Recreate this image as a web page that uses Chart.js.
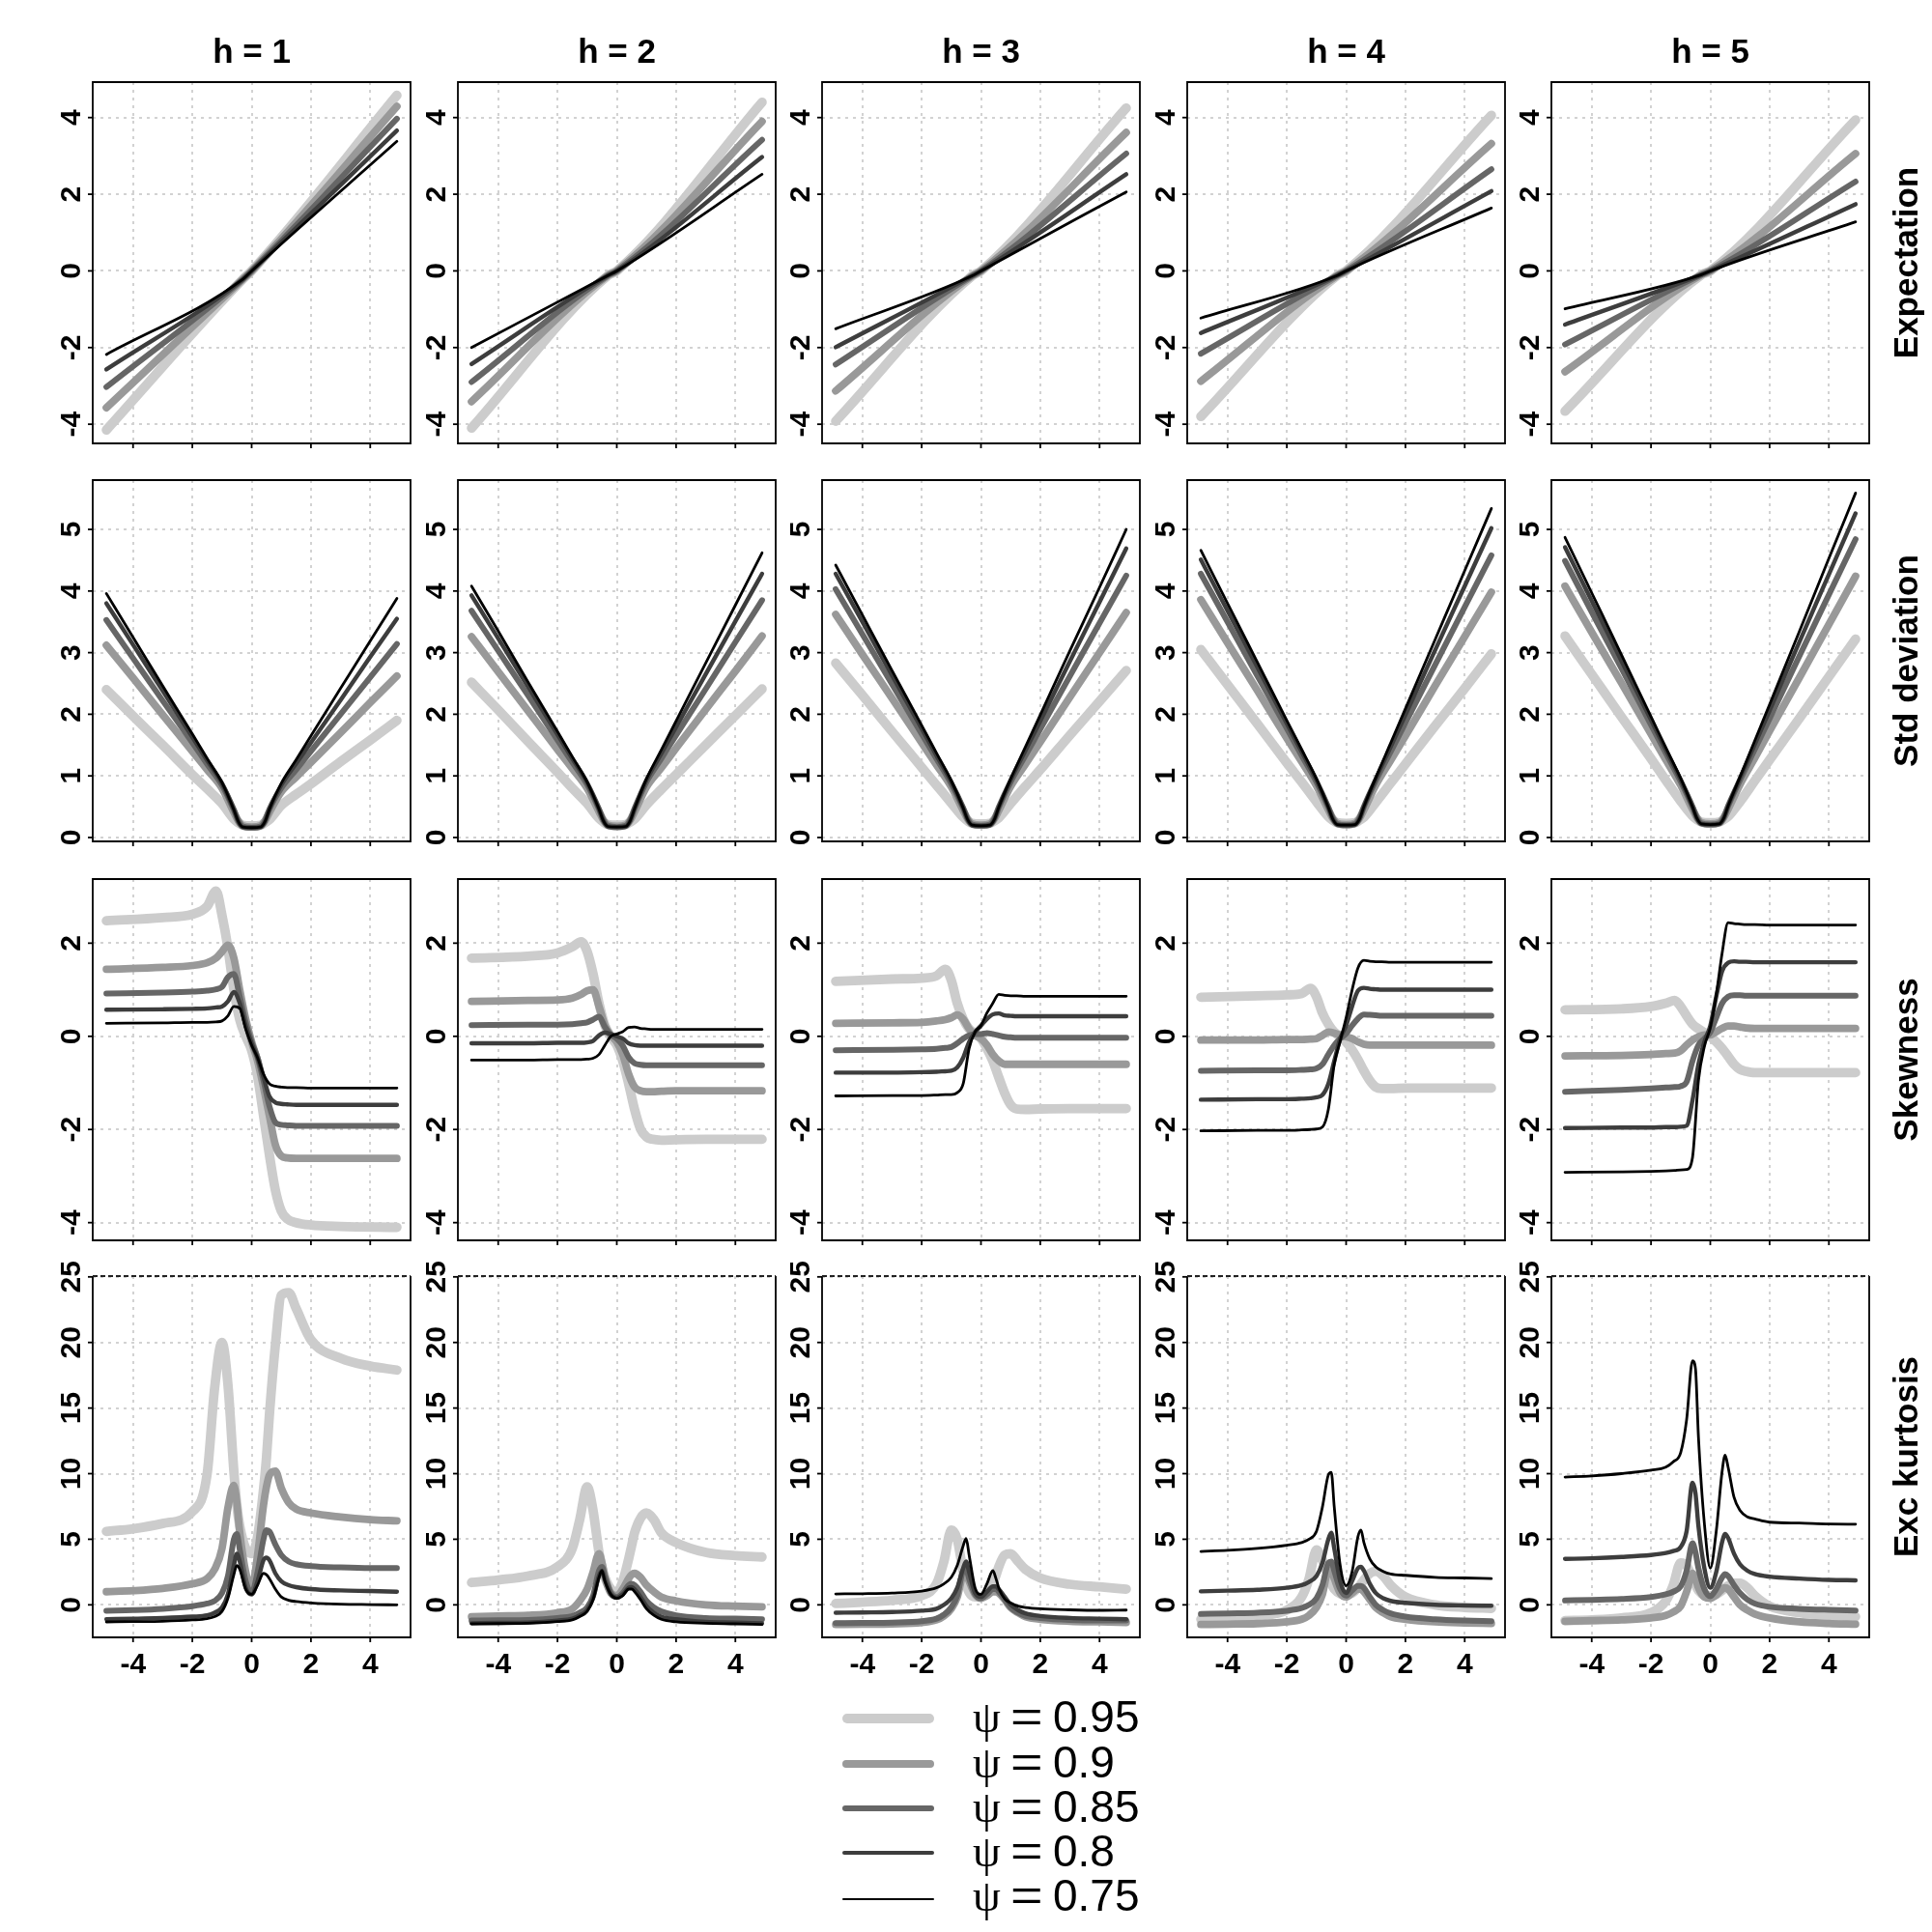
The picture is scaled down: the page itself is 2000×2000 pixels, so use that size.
<!DOCTYPE html>
<html>
<head>
<meta charset="utf-8">
<title>Conditional moments by horizon</title>
<script src="https://cdn.jsdelivr.net/npm/chart.js@4.4.1/dist/chart.umd.min.js"></script>
<style>
html,body{margin:0;padding:0;background:#ffffff;}
#page{position:relative;width:2000px;height:2000px;overflow:hidden;background:#fff;font-family:"Liberation Sans",Arial,Helvetica,sans-serif;color:#000;}
canvas.panel{position:absolute;}
.coltitle{position:absolute;text-align:center;font-weight:bold;font-size:35px;line-height:40px;white-space:nowrap;}
.rowlabel{position:absolute;font-weight:bold;font-size:35px;line-height:35px;white-space:nowrap;transform:translate(-50%,-50%) rotate(-90deg);}
.legline{position:absolute;left:872px;width:95px;}
.legtext{position:absolute;left:1007px;font-size:46px;line-height:46px;white-space:nowrap;}
.legtext .psi{display:inline-block;width:39px;font-family:"Liberation Serif","DejaVu Serif",serif;}
.legtext .eq{display:inline-block;width:44px;}
.legtext .eq span{display:inline-block;transform:scaleX(1.25);transform-origin:left center;}
</style>
</head>
<body>
<div id="page"></div>
<script>
// ---------------- data ----------------
const PSI = ['0.95', '0.9', '0.85', '0.8', '0.75'];
const H_TITLES = ['h = 1', 'h = 2', 'h = 3', 'h = 4', 'h = 5'];
const ROW_LABELS = ['Expectation', 'Std deviation', 'Skewness', 'Exc kurtosis'];
const X_TICKS = [-4, -2, 0, 2, 4];
const Y_TICKS_EXP = [-4, -2, 0, 2, 4];
const Y_TICKS_STD = [0, 1, 2, 3, 4, 5];
const Y_TICKS_SKEW = [-4, -2, 0, 2];
const Y_TICKS_KURT = [0, 5, 10, 15, 20, 25];

// Expectation
const X_EXP = [-4.9, -0.3, 0, 4.9];
const EXP_H1 = [[-4.15,-0.22,0,4.58],[-3.57,-0.22,0,4.29],[-3.03,-0.22,0,3.97],[-2.57,-0.22,0,3.66],[-2.18,-0.22,0,3.38]];
const EXP_H2 = [[-4.1,-0.12,0,4.4],[-3.41,-0.12,0,3.9],[-2.9,-0.12,0,3.42],[-2.43,-0.12,0,2.97],[-2.0,-0.12,0,2.52]];
const EXP_H3 = [[-3.92,-0.13,0,4.25],[-3.13,-0.13,0,3.61],[-2.44,-0.13,0,3.06],[-1.99,-0.13,0,2.52],[-1.51,-0.13,0,2.06]];
const EXP_H4 = [[-3.8,-0.12,0,4.06],[-2.88,-0.12,0,3.32],[-2.16,-0.12,0,2.65],[-1.62,-0.12,0,2.08],[-1.23,-0.12,0,1.64]];
const EXP_H5 = [[-3.66,-0.1,0,3.94],[-2.63,-0.1,0,3.06],[-1.92,-0.1,0,2.33],[-1.4,-0.1,0,1.74],[-0.99,-0.1,0,1.28]];

// Std deviation
const X_STD = [-4.9,-4,-3,-2,-1.5,-1,-0.6,-0.45,-0.3,0,0.3,0.45,0.6,1,1.5,2,3,4,4.9];
const STD_H1 = [
 [2.4,1.97,1.5,1.02,0.79,0.55,0.3,0.24,0.2,0.19,0.2,0.24,0.29,0.52,0.7,0.87,1.23,1.58,1.9],
 [3.12,2.59,1.99,1.4,1.1,0.8,0.41,0.27,0.19,0.17,0.19,0.27,0.41,0.74,0.98,1.22,1.7,2.19,2.62],
 [3.53,2.91,2.22,1.54,1.19,0.85,0.45,0.27,0.18,0.16,0.18,0.27,0.46,0.8,1.1,1.4,2.0,2.6,3.14],
 [3.8,3.13,2.38,1.63,1.25,0.88,0.45,0.26,0.17,0.16,0.17,0.26,0.46,0.85,1.2,1.54,2.23,2.93,3.55],
 [3.96,3.25,2.46,1.68,1.28,0.89,0.45,0.26,0.17,0.16,0.17,0.26,0.46,0.88,1.26,1.65,2.42,3.19,3.88]];
const STD_H2 = [
 [2.52,2.07,1.56,1.06,0.8,0.55,0.31,0.25,0.21,0.2,0.21,0.25,0.3,0.53,0.78,1.02,1.5,1.98,2.41],
 [3.26,2.69,2.06,1.43,1.12,0.8,0.42,0.28,0.2,0.18,0.2,0.28,0.42,0.82,1.13,1.45,2.08,2.7,3.27],
 [3.68,3.03,2.31,1.58,1.22,0.86,0.46,0.28,0.19,0.17,0.19,0.28,0.47,0.9,1.28,1.66,2.41,3.17,3.85],
 [3.93,3.23,2.45,1.67,1.28,0.89,0.46,0.27,0.18,0.17,0.18,0.27,0.47,0.93,1.36,1.79,2.65,3.51,4.28],
 [4.08,3.35,2.53,1.72,1.31,0.9,0.46,0.27,0.18,0.17,0.18,0.27,0.47,0.95,1.42,1.89,2.83,3.77,4.62]];
const STD_H3 = [
 [2.83,2.31,1.72,1.14,0.85,0.56,0.33,0.27,0.23,0.22,0.23,0.27,0.32,0.55,0.83,1.1,1.66,2.21,2.71],
 [3.62,2.97,2.26,1.54,1.18,0.82,0.44,0.3,0.22,0.2,0.22,0.3,0.44,0.83,1.19,1.55,2.28,3.0,3.65],
 [4.03,3.3,2.49,1.68,1.28,0.87,0.48,0.3,0.21,0.19,0.21,0.3,0.49,0.9,1.33,1.76,2.62,3.48,4.25],
 [4.28,3.5,2.63,1.77,1.33,0.9,0.48,0.29,0.2,0.19,0.2,0.29,0.49,0.93,1.41,1.89,2.86,3.82,4.69],
 [4.42,3.61,2.71,1.82,1.37,0.92,0.48,0.29,0.2,0.19,0.2,0.29,0.49,0.95,1.47,1.99,3.03,4.06,5.0]];
const STD_H4 = [
 [3.05,2.48,1.85,1.21,0.9,0.58,0.34,0.28,0.24,0.23,0.24,0.28,0.33,0.57,0.88,1.19,1.81,2.42,2.98],
 [3.86,3.16,2.39,1.61,1.23,0.84,0.45,0.31,0.23,0.21,0.23,0.31,0.45,0.85,1.25,1.65,2.46,3.26,3.98],
 [4.28,3.5,2.63,1.77,1.33,0.9,0.49,0.31,0.22,0.2,0.22,0.31,0.5,0.92,1.39,1.86,2.8,3.74,4.58],
 [4.51,3.68,2.77,1.85,1.39,0.93,0.49,0.3,0.21,0.2,0.21,0.3,0.5,0.95,1.47,1.99,3.04,4.08,5.02],
 [4.66,3.8,2.85,1.9,1.43,0.95,0.49,0.3,0.21,0.2,0.21,0.3,0.5,0.97,1.53,2.09,3.21,4.33,5.34]];
const STD_H5 = [
 [3.27,2.65,1.96,1.28,0.93,0.59,0.35,0.29,0.25,0.24,0.25,0.29,0.34,0.58,0.92,1.26,1.93,2.61,3.22],
 [4.08,3.33,2.51,1.68,1.26,0.85,0.46,0.32,0.24,0.22,0.24,0.32,0.46,0.86,1.29,1.73,2.59,3.46,4.24],
 [4.49,3.66,2.75,1.83,1.37,0.91,0.5,0.32,0.23,0.21,0.23,0.32,0.51,0.93,1.43,1.93,2.94,3.94,4.84],
 [4.71,3.84,2.87,1.91,1.42,0.94,0.5,0.31,0.22,0.21,0.22,0.31,0.51,0.96,1.51,2.06,3.17,4.27,5.26],
 [4.87,3.97,2.97,1.96,1.46,0.96,0.5,0.31,0.22,0.21,0.22,0.31,0.51,0.98,1.57,2.16,3.34,4.53,5.59]];

// Skewness
const X_SKEW = [-4.9,-3,-2,-1.5,-1.2,-1,-0.8,-0.6,-0.4,-0.2,0,0.2,0.4,0.6,0.8,1,1.2,1.5,2,3,4.9];
const SKEW_H1 = [
 [2.48,2.55,2.62,2.79,3.12,2.6,1.9,1.0,0.35,0.0,-0.3,-0.85,-1.7,-2.55,-3.3,-3.75,-3.92,-4.0,-4.05,-4.08,-4.1],
 [1.44,1.48,1.52,1.58,1.68,1.82,1.96,1.68,0.99,0.37,-0.12,-0.53,-1.09,-1.71,-2.33,-2.57,-2.61,-2.62,-2.62,-2.62,-2.62],
 [0.92,0.94,0.96,0.98,1.01,1.06,1.27,1.34,0.85,0.3,-0.12,-0.46,-0.95,-1.5,-1.85,-1.9,-1.91,-1.92,-1.92,-1.92,-1.92],
 [0.57,0.58,0.59,0.6,0.62,0.64,0.75,0.95,0.71,0.23,-0.15,-0.46,-0.88,-1.29,-1.42,-1.45,-1.46,-1.47,-1.47,-1.47,-1.47],
 [0.28,0.29,0.3,0.3,0.31,0.33,0.44,0.64,0.6,0.16,-0.19,-0.46,-0.81,-1.02,-1.07,-1.09,-1.1,-1.1,-1.11,-1.11,-1.11]];
const SKEW_H2 = [
 [1.68,1.72,1.79,1.92,2.03,1.82,1.34,0.71,0.23,-0.01,-0.19,-0.53,-1.02,-1.57,-1.99,-2.16,-2.21,-2.23,-2.22,-2.21,-2.21],
 [0.75,0.77,0.78,0.82,0.9,0.98,1.0,0.64,0.23,0.02,-0.12,-0.39,-0.81,-1.09,-1.17,-1.19,-1.19,-1.18,-1.17,-1.17,-1.17],
 [0.24,0.25,0.25,0.26,0.28,0.3,0.36,0.42,0.2,0.03,-0.05,-0.2,-0.45,-0.58,-0.61,-0.62,-0.62,-0.62,-0.62,-0.62,-0.62],
 [-0.15,-0.15,-0.14,-0.14,-0.14,-0.13,-0.1,0.02,0.08,0.05,0.0,-0.05,-0.15,-0.19,-0.2,-0.2,-0.2,-0.2,-0.2,-0.2,-0.2],
 [-0.51,-0.51,-0.5,-0.5,-0.5,-0.49,-0.47,-0.39,-0.19,0.0,0.05,0.1,0.19,0.2,0.17,0.16,0.15,0.15,0.15,0.15,0.15]];
const SKEW_H3 = [
 [1.18,1.23,1.25,1.3,1.44,1.2,0.71,0.37,0.16,0.06,-0.05,-0.26,-0.53,-0.88,-1.22,-1.47,-1.56,-1.57,-1.56,-1.55,-1.55],
 [0.28,0.29,0.3,0.33,0.36,0.4,0.46,0.37,0.16,0.02,-0.05,-0.19,-0.39,-0.53,-0.6,-0.6,-0.6,-0.6,-0.6,-0.6,-0.6],
 [-0.3,-0.29,-0.28,-0.27,-0.25,-0.23,-0.15,-0.05,0.02,0.05,0.05,0.07,0.05,0.02,-0.01,-0.02,-0.03,-0.03,-0.03,-0.03,-0.03],
 [-0.78,-0.78,-0.77,-0.76,-0.75,-0.74,-0.67,-0.46,-0.12,0.09,0.23,0.37,0.47,0.49,0.45,0.44,0.43,0.43,0.43,0.43,0.43],
 [-1.28,-1.27,-1.27,-1.26,-1.25,-1.25,-1.21,-1.02,-0.26,0.09,0.23,0.5,0.71,0.9,0.88,0.87,0.87,0.86,0.86,0.86,0.86]];
const SKEW_H4 = [
 [0.84,0.87,0.89,0.92,1.03,0.85,0.5,0.26,0.09,-0.01,-0.12,-0.29,-0.5,-0.74,-0.95,-1.09,-1.12,-1.12,-1.11,-1.11,-1.11],
 [-0.08,-0.08,-0.07,-0.07,-0.06,-0.05,0.02,0.09,0.07,0.02,-0.01,-0.05,-0.12,-0.17,-0.19,-0.19,-0.19,-0.19,-0.19,-0.19,-0.19],
 [-0.74,-0.73,-0.73,-0.72,-0.71,-0.69,-0.6,-0.39,-0.19,-0.05,0.06,0.23,0.38,0.47,0.46,0.45,0.44,0.44,0.44,0.44,0.44],
 [-1.36,-1.35,-1.35,-1.34,-1.33,-1.31,-1.26,-1.02,-0.53,-0.05,0.23,0.64,0.98,1.04,1.02,1.01,1.0,1.0,1.0,1.0,1.0],
 [-2.03,-2.02,-2.02,-2.01,-2.0,-1.99,-1.95,-1.57,-0.6,-0.1,0.4,0.99,1.47,1.63,1.61,1.6,1.6,1.59,1.59,1.59,1.59]];
const SKEW_H5 = [
 [0.57,0.59,0.64,0.71,0.77,0.64,0.44,0.26,0.16,0.08,0.0,-0.12,-0.26,-0.43,-0.6,-0.71,-0.75,-0.78,-0.78,-0.78,-0.78],
 [-0.42,-0.41,-0.39,-0.37,-0.36,-0.31,-0.19,-0.08,-0.01,0.03,0.03,0.1,0.17,0.22,0.22,0.2,0.18,0.17,0.17,0.17,0.17],
 [-1.19,-1.15,-1.12,-1.1,-1.09,-1.07,-0.98,-0.53,-0.19,-0.05,0.09,0.4,0.71,0.85,0.88,0.88,0.87,0.87,0.87,0.87,0.87],
 [-1.97,-1.96,-1.96,-1.95,-1.95,-1.94,-1.92,-1.37,-0.6,-0.12,0.23,0.85,1.4,1.58,1.61,1.6,1.6,1.59,1.59,1.59,1.59],
 [-2.92,-2.91,-2.9,-2.89,-2.88,-2.87,-2.86,-2.6,-0.95,-0.22,0.19,0.89,1.79,2.44,2.42,2.41,2.4,2.4,2.39,2.39,2.39]];

// Excess kurtosis
const X_KURT = [-4.9,-4,-3,-2,-1.5,-1.25,-1,-0.8,-0.6,-0.5,-0.4,-0.2,0,0.2,0.4,0.5,0.6,0.8,1,1.25,1.5,2,3,4,4.9];
const KURT_H1 = [
 [5.6,5.8,6.2,7.1,10.0,16.5,20.0,16.8,10.2,7.6,6.0,4.3,3.9,5.2,8.8,11.2,14.5,19.8,23.6,23.8,22.6,20.2,18.8,18.2,17.9],
 [1.0,1.08,1.25,1.6,2.0,2.7,4.3,7.4,9.1,7.8,5.5,2.5,1.3,3.8,7.6,9.0,9.9,10.2,8.9,7.8,7.3,7.0,6.7,6.5,6.4],
 [-0.45,-0.4,-0.3,-0.1,0.1,0.3,0.9,2.2,5.0,5.4,4.2,1.8,0.9,2.5,5.0,5.7,5.6,4.6,3.8,3.3,3.1,2.95,2.85,2.8,2.8],
 [-1.1,-1.05,-1.0,-0.9,-0.8,-0.6,-0.2,0.8,3.0,3.9,3.3,1.3,0.8,1.8,3.4,3.6,3.4,2.4,1.8,1.5,1.35,1.2,1.1,1.05,1.0],
 [-1.3,-1.28,-1.25,-1.15,-1.05,-0.9,-0.5,0.5,2.3,3.0,2.7,1.2,0.8,1.5,2.4,2.3,2.0,1.2,0.6,0.35,0.25,0.15,0.05,0.02,0.0]];
const KURT_H2 = [
 [1.7,1.9,2.2,2.9,4.3,6.5,9.0,7.2,4.0,2.9,2.1,1.2,0.95,1.8,3.5,4.5,5.5,6.6,7.0,6.5,5.5,4.75,4.0,3.75,3.65],
 [-0.9,-0.85,-0.8,-0.6,-0.3,0.3,1.2,2.5,3.9,3.2,2.1,0.9,0.7,1.2,2.0,2.3,2.4,2.1,1.5,1.0,0.6,0.3,0.0,-0.1,-0.15],
 [-1.2,-1.18,-1.15,-1.0,-0.85,-0.6,-0.2,0.7,2.6,2.9,2.2,0.9,0.6,0.9,1.5,1.6,1.5,1.0,0.3,-0.2,-0.5,-0.8,-1.0,-1.05,-1.1],
 [-1.4,-1.38,-1.35,-1.2,-1.05,-0.8,-0.4,0.5,2.2,2.6,1.9,0.8,0.55,0.8,1.3,1.35,1.2,0.6,-0.1,-0.6,-0.9,-1.1,-1.3,-1.35,-1.4],
 [-1.45,-1.43,-1.4,-1.28,-1.15,-0.9,-0.5,0.4,2.1,2.6,1.8,0.8,0.5,0.7,1.2,1.2,1.0,0.4,-0.3,-0.8,-1.1,-1.3,-1.4,-1.45,-1.5]];
const KURT_H3 = [
 [0.1,0.2,0.35,0.7,1.6,3.3,5.7,5.0,2.5,1.6,0.95,0.6,0.6,0.95,1.6,2.2,2.9,3.8,3.9,3.3,2.7,2.05,1.57,1.37,1.2],
 [-1.5,-1.48,-1.45,-1.35,-1.15,-0.85,-0.3,0.6,2.3,2.4,1.8,0.8,0.5,0.7,1.0,1.0,0.9,0.4,-0.2,-0.6,-0.9,-1.1,-1.25,-1.3,-1.35],
 [-1.4,-1.38,-1.35,-1.25,-1.05,-0.75,-0.2,0.7,2.6,2.7,2.0,0.8,0.5,0.8,1.2,1.2,1.0,0.4,-0.2,-0.6,-0.85,-1.0,-1.15,-1.2,-1.2],
 [-0.6,-0.58,-0.55,-0.45,-0.3,0.0,0.5,1.3,2.8,3.3,2.5,0.9,0.6,1.0,1.4,1.4,1.2,0.6,0.0,-0.4,-0.65,-0.85,-1.0,-1.05,-1.1],
 [0.83,0.85,0.9,1.05,1.3,1.6,2.1,3.0,4.5,5.05,3.8,1.3,0.8,1.6,2.6,2.05,1.3,0.45,0.15,-0.1,-0.2,-0.3,-0.38,-0.42,-0.4]];
const KURT_H4 = [
 [-1.1,-1.0,-0.85,-0.4,0.6,2.0,4.2,3.4,2.2,1.6,1.2,0.85,0.8,0.9,1.3,1.6,1.9,2.4,2.55,2.2,1.5,0.6,0.0,-0.2,-0.27],
 [-1.5,-1.47,-1.43,-1.3,-1.1,-0.8,-0.2,0.8,2.6,2.6,2.0,0.9,0.6,0.9,1.2,1.2,1.0,0.4,-0.2,-0.6,-0.9,-1.1,-1.3,-1.38,-1.42],
 [-0.7,-0.65,-0.6,-0.45,-0.25,0.0,0.5,1.5,3.2,3.3,2.6,1.2,0.7,1.1,1.45,1.45,1.3,0.6,0.0,-0.4,-0.65,-0.9,-1.1,-1.2,-1.25],
 [1.03,1.08,1.15,1.3,1.5,1.75,2.2,3.2,5.0,5.5,4.3,1.8,0.9,1.8,2.8,2.9,2.6,1.6,0.9,0.5,0.3,0.15,0.0,-0.05,-0.07],
 [4.07,4.15,4.3,4.55,4.75,5.0,5.6,7.45,9.9,10.1,7.45,3.0,1.45,2.5,5.2,5.7,4.75,3.5,2.9,2.55,2.35,2.25,2.1,2.05,2.0]];
const KURT_H5 = [
 [-1.2,-1.15,-1.0,-0.6,0.3,1.5,3.2,3.0,2.0,1.5,1.1,0.75,0.7,0.8,1.1,1.3,1.45,1.65,1.65,1.3,0.7,-0.1,-0.6,-0.8,-0.9],
 [-1.25,-1.2,-1.15,-1.0,-0.8,-0.55,-0.1,1.0,2.4,2.0,1.3,0.6,0.5,0.75,1.2,1.3,1.2,0.6,0.0,-0.4,-0.7,-1.0,-1.3,-1.42,-1.48],
 [0.33,0.38,0.45,0.6,0.8,1.0,1.4,2.6,4.7,4.0,2.8,1.2,0.65,1.2,2.1,2.35,2.2,1.5,0.9,0.4,0.1,-0.15,-0.3,-0.38,-0.43],
 [3.5,3.55,3.65,3.8,3.95,4.1,4.4,5.6,9.3,8.5,6.0,2.8,1.3,2.5,4.8,5.4,5.1,3.9,3.1,2.6,2.35,2.15,2.0,1.9,1.87],
 [9.74,9.83,10.0,10.26,10.5,10.9,11.6,14.1,18.6,18.0,12.8,6.2,2.8,5.6,10.2,11.4,10.5,8.2,7.2,6.7,6.55,6.3,6.23,6.16,6.15]];

// ---------------- layout & style ----------------
const COLORS = ['#cccccc', '#999999', '#666666', '#3d3d3d', '#000000'];
const WIDTHS = [9.8, 7.8, 6.0, 4.4, 2.8];
const PANEL_LEFT = [96, 474, 851, 1229, 1606];
const PANEL_TOP = [85, 497, 910, 1321];
const PW = 329, PH = 374, M = 60;
const X_MIN = -5.36, X_MAX = 5.36;

const ROWS = [
  { xs: X_EXP,  sets: [EXP_H1, EXP_H2, EXP_H3, EXP_H4, EXP_H5],   min: -4.5,  max: 4.925, ticks: Y_TICKS_EXP },
  { xs: X_STD,  sets: [STD_H1, STD_H2, STD_H3, STD_H4, STD_H5],   min: -0.063, max: 5.8,  ticks: Y_TICKS_STD },
  { xs: X_SKEW, sets: [SKEW_H1, SKEW_H2, SKEW_H3, SKEW_H4, SKEW_H5], min: -4.38, max: 3.376, ticks: Y_TICKS_SKEW },
  { xs: X_KURT, sets: [KURT_H1, KURT_H2, KURT_H3, KURT_H4, KURT_H5], min: -2.48, max: 25.06, ticks: Y_TICKS_KURT }
];

const page = document.getElementById('page');
const TICK_FONT = 'bold 30px "Liberation Sans", Arial, sans-serif';

const panelDecor = {
  id: 'panelDecor',
  afterDraw(chart, args, o) {
    const ctx = chart.ctx, a = chart.chartArea, xs = chart.scales.x, ys = chart.scales.y;
    ctx.save();
    ctx.fillStyle = '#000';
    ctx.strokeStyle = '#000';
    ctx.font = TICK_FONT;
    ctx.lineWidth = 1.8;
    ctx.setLineDash([]);
    o.yTicks.forEach(v => {
      const py = ys.getPixelForValue(v);
      ctx.beginPath(); ctx.moveTo(a.left, py); ctx.lineTo(a.left - 5, py); ctx.stroke();
      ctx.save();
      ctx.translate(a.left - 21, py);
      ctx.rotate(-Math.PI / 2);
      ctx.textAlign = 'center'; ctx.textBaseline = 'middle';
      ctx.fillText(String(v), 0, 0);
      ctx.restore();
    });
    o.xTicks.forEach(v => {
      const px = xs.getPixelForValue(v);
      ctx.beginPath(); ctx.moveTo(px, a.bottom); ctx.lineTo(px, a.bottom + 5); ctx.stroke();
      if (o.xLabels) {
        ctx.textAlign = 'center'; ctx.textBaseline = 'middle';
        ctx.fillText(String(v), px, a.bottom + 29);
      }
    });
    ctx.beginPath();
    ctx.moveTo(a.right, a.top);
    ctx.lineTo(a.right, a.bottom);
    ctx.lineTo(a.left, a.bottom);
    ctx.lineTo(a.left, a.top);
    if (!o.dashTop) ctx.closePath();
    ctx.stroke();
    if (o.dashTop) {
      ctx.setLineDash([5, 3]);
      ctx.strokeStyle = '#222';
      ctx.beginPath(); ctx.moveTo(a.left, a.top); ctx.lineTo(a.right, a.top); ctx.stroke();
    }
    ctx.restore();
  }
};

function axisCommon(ticksArr) {
  return {
    type: 'linear',
    afterBuildTicks: s => { s.ticks = ticksArr.map(v => ({ value: v })); },
    ticks: { display: false, autoSkip: false },
    grid: { color: '#d2d2d2', lineWidth: 2, drawTicks: false },
    border: { display: false, dash: [3, 5] }
  };
}

ROWS.forEach((row, r) => {
  row.sets.forEach((series, c) => {
    const cv = document.createElement('canvas');
    cv.className = 'panel';
    cv.width = PW + 2 * M; cv.height = PH + 2 * M;
    cv.style.width = (PW + 2 * M) + 'px'; cv.style.height = (PH + 2 * M) + 'px';
    cv.style.left = (PANEL_LEFT[c] - M) + 'px';
    cv.style.top = (PANEL_TOP[r] - M) + 'px';
    page.appendChild(cv);

    const datasets = [];
    for (let k = PSI.length - 1; k >= 0; k--) {   // black first => drawn on top
      datasets.push({
        label: 'ψ = ' + PSI[k],
        data: row.xs.map((x, j) => ({ x: x, y: series[k][j] })),
        borderColor: COLORS[k],
        borderWidth: WIDTHS[k],
        pointRadius: 0,
        fill: false,
        cubicInterpolationMode: 'monotone',
        borderCapStyle: 'round',
        borderJoinStyle: 'round'
      });
    }
    const xAx = Object.assign(axisCommon(X_TICKS), { min: X_MIN, max: X_MAX, afterFit: s => { s.height = M; } });
    const yAx = Object.assign(axisCommon(row.ticks), { min: row.min, max: row.max, afterFit: s => { s.width = M; } });
    new Chart(cv, {
      type: 'line',
      data: { datasets },
      options: {
        responsive: false,
        animation: false,
        events: [],
        layout: { padding: { top: M, right: M, left: 0, bottom: 0 } },
        plugins: {
          legend: { display: false },
          tooltip: { enabled: false },
          panelDecor: { yTicks: row.ticks, xTicks: X_TICKS, xLabels: r === ROWS.length - 1, dashTop: r === ROWS.length - 1 }
        },
        scales: { x: xAx, y: yAx }
      },
      plugins: [panelDecor]
    });
  });
});

// column titles
H_TITLES.forEach((t, c) => {
  const d = document.createElement('div');
  d.className = 'coltitle';
  d.textContent = t;
  d.style.left = PANEL_LEFT[c] + 'px';
  d.style.width = PW + 'px';
  d.style.top = '33px';
  page.appendChild(d);
});
// row labels
ROW_LABELS.forEach((t, r) => {
  const d = document.createElement('div');
  d.className = 'rowlabel';
  d.textContent = t;
  d.style.left = '1972px';
  d.style.top = (PANEL_TOP[r] + PH / 2) + 'px';
  page.appendChild(d);
});
// legend
const LEG_LINE_Y = [1779, 1826, 1872, 1918, 1966];
const LEG_BASE_Y = [1793, 1840, 1886, 1932, 1978];
PSI.forEach((p, k) => {
  const ln = document.createElement('div');
  ln.className = 'legline';
  ln.style.top = (LEG_LINE_Y[k] - WIDTHS[k] / 2) + 'px';
  ln.style.height = WIDTHS[k] + 'px';
  ln.style.borderRadius = (WIDTHS[k] / 2) + 'px';
  ln.style.background = COLORS[k];
  page.appendChild(ln);
  const tx = document.createElement('div');
  tx.className = 'legtext';
  tx.style.top = (LEG_BASE_Y[k] - 39) + 'px';
  tx.innerHTML = '<span class="psi">ψ</span><span class="eq"><span>=</span></span><span>' + p + '</span>';
  page.appendChild(tx);
});
</script>
</body>
</html>
